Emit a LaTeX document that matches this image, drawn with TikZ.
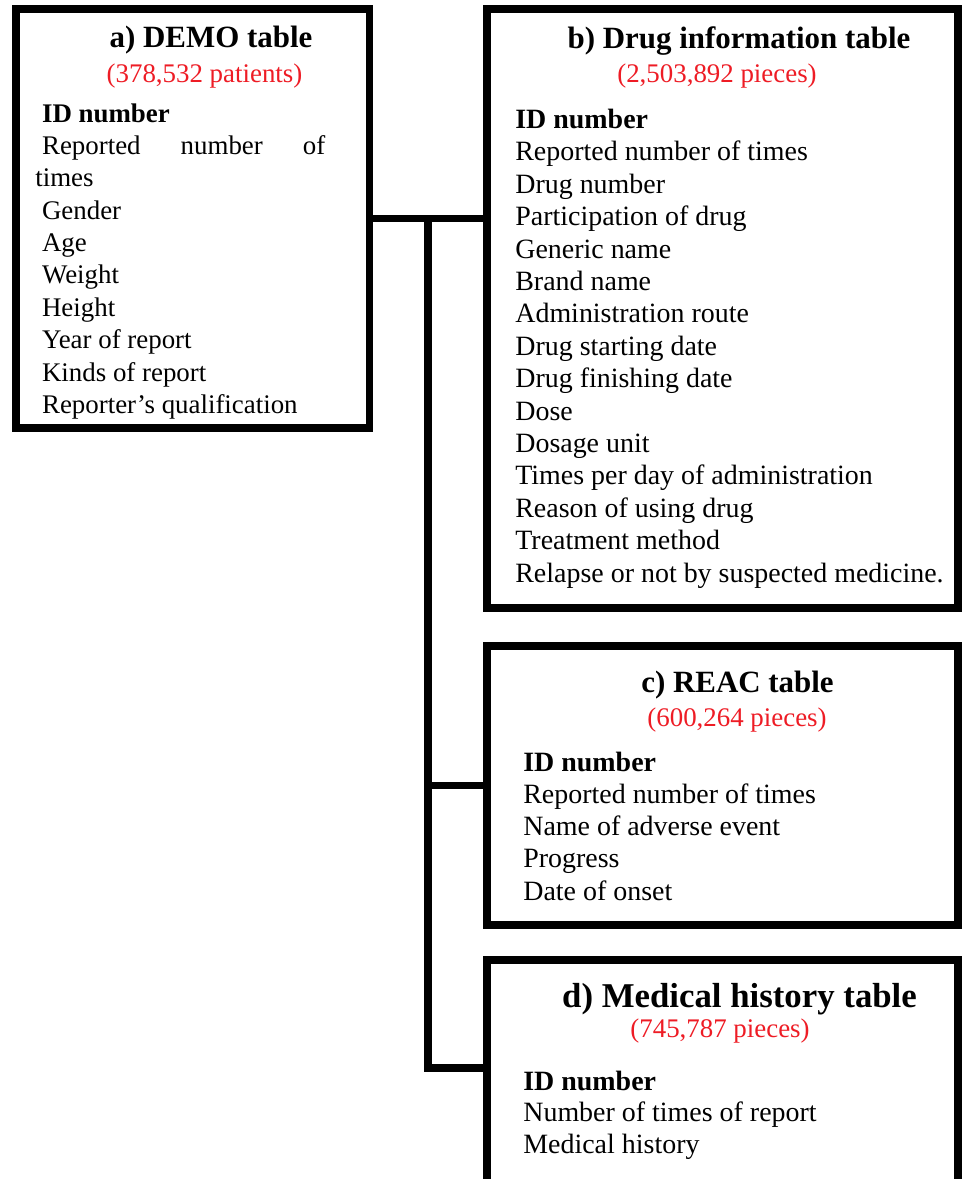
\documentclass[tikz,border=0pt]{standalone}
\usepackage{fontspec}
\setmainfont{Liberation Serif}
\usetikzlibrary{positioning,calc}
\definecolor{countred}{HTML}{EE1C25}
\tikzset{
    % Table frame
    tablebox/.style={
        rectangle,
        draw=black,
        line width=4.3pt,
        minimum width=9.42cm,
        inner sep=0pt
    },
    % Table heading
    table title/.style={
        font=\fontsize{17.6}{21}\selectfont\bfseries,
        anchor=base,
        inner sep=0pt
    },
    % Record count
    count text/.style={
        font=\fontsize{15.3}{18}\selectfont,
        text=countred,
        anchor=base,
        inner sep=0pt
    },
    % List of fields (placed by the baseline of its last line)
    field list/.style={
        font=\fontsize{15.9}{18.43}\selectfont,
        align=left,
        anchor=base west,
        inner sep=0pt
    },
    % Connector
    link/.style={
        line width=4.3pt,
        draw=black
    }
}

\begin{document}
\begin{tikzpicture}

        \path[fill=white, use as bounding box] (0,0) rectangle (19.22,-23.58);

        % Frames
        \node[tablebox, minimum width=7.07cm, minimum height=8.38cm] (aBox) at (3.855,-4.37) {};
        \node[tablebox, minimum height=11.98cm] (bBox) at (14.45,-6.17) {};
        \node[tablebox, minimum height=5.58cm] (cBox) at (14.45,-15.71) {};
        \node[tablebox, minimum height=4.62cm] (dBox) at (14.45,-21.51) {};

        % a) DEMO table
        \node[table title] (aTitle) at (4.22,-0.94) {a) DEMO table};
        \node[count text] (aCount) at (4.09,-1.64) {(378,532 patients)};
        \node[field list, font=\fontsize{15.3}{18.43}\selectfont] (aList) at (0.70,-8.27) {%
            {\bfseries\ ID number}\\
            \hbox to 5.8cm{\ Reported\hfill number\hfill of}\\
            times\\
            \ Gender\\
            \ Age\\
            \ Weight\\
            \ Height\\
            \ Year of report\\
            \ Kinds of report\\
            \ Reporter’s qualification};

        % b) Drug information table
        \node[table title] (bTitle) at (14.78,-0.96) {b) Drug information table};
        \node[count text] (bCount) at (14.34,-1.64) {(2,503,892 pieces)};
        \node[field list] (bList) at (10.30,-11.64) {%
            \textbf{ID number}\\
            Reported number of times\\
            Drug number\\
            Participation of drug\\
            Generic name\\
            Brand name\\
            Administration route\\
            Drug starting date\\
            Drug finishing date\\
            Dose\\
            Dosage unit\\
            Times per day of administration\\
            Reason of using drug\\
            Treatment method\\
            Relapse or not by suspected medicine.};

        % c) REAC table
        \node[table title] (cTitle) at (14.75,-13.84) {c) REAC table};
        \node[count text] (cCount) at (14.74,-14.52) {(600,264 pieces)};
        \node[field list, font=\fontsize{15.9}{18.28}\selectfont] (cList) at (10.46,-18.00) {%
            \textbf{ID number}\\
            Reported number of times\\
            Name of adverse event\\
            Progress\\
            Date of onset};

        % d) Medical history table
        \node[table title, font=\fontsize{19.8}{23}\selectfont\bfseries] (dTitle) at (14.79,-20.14) {d) Medical history table};
        \node[count text] (dCount) at (14.40,-20.74) {(745,787 pieces)};
        \node[field list, font=\fontsize{15.9}{17.86}\selectfont] (dList) at (10.46,-23.06) {%
            \textbf{ID number}\\
            Number of times of report\\
            Medical history};

        % Links
        \coordinate (split) at ($(aBox.east)!0.5!(bBox.west |- aBox.east)$);
        \draw[link] (aBox.east) -- (bBox.west |- aBox.east);
        \draw[link] (split) |- (cBox.west);
        \draw[link] (split) |- ([yshift=0.15cm]dBox.west);

\end{tikzpicture}
\end{document}
